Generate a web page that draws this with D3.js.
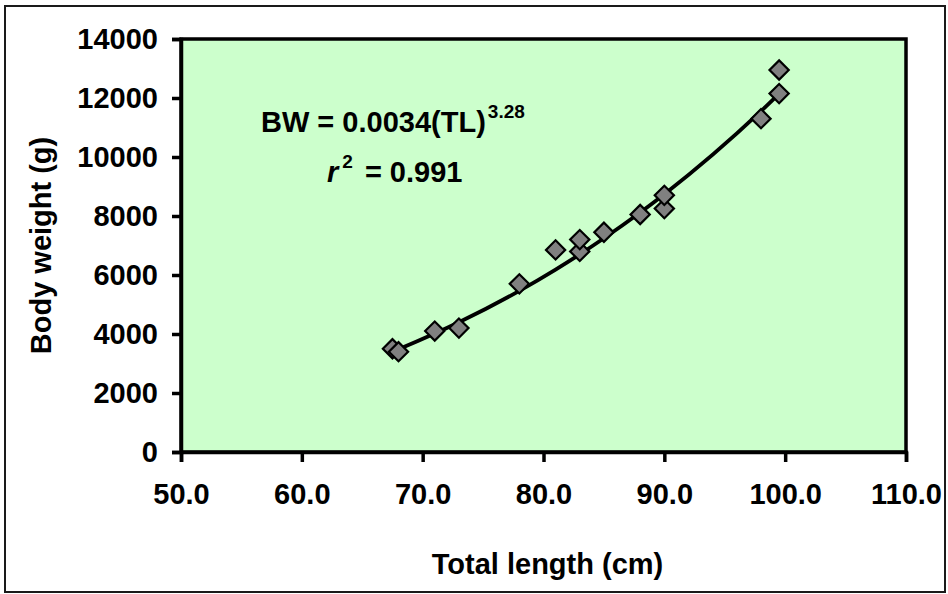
<!DOCTYPE html>
<html>
<head>
<meta charset="utf-8">
<script src="https://cdn.jsdelivr.net/npm/d3@7"></script>
<style>
    body { margin: 0; background: #fff; }
    text { font-family: "Liberation Sans", Arial, sans-serif; font-weight: bold; fill: #000; }
</style>
</head>
<body>
<div id="chart"></div>
<script>
// Data
const totalLength = [67.5, 68, 71, 73, 78, 81, 83, 83, 85, 88, 90, 90, 98, 99.5, 99.5];
const bodyWeight = [3500, 3400, 4100, 4200, 5700, 6850, 6800, 7200, 7450, 8050, 8250, 8700, 11300, 12150, 12950];
const xTicks = [50, 60, 70, 80, 90, 100, 110];
const yTicks = [0, 2000, 4000, 6000, 8000, 10000, 12000, 14000];
// Power trendline shown on the chart: BW = a * TL^b
const trendA = 0.0034;
const trendB = 3.28;
const r2 = 0.991;

const W = 948, H = 594;
const margin = {left: 181, top: 39, right: 42, bottom: 142};
const width = W - margin.left - margin.right;
const height = H - margin.top - margin.bottom;

const svg = d3.select('#chart').append('svg')
    .attr('width', W)
    .attr('height', H);

// Outer frame
svg.append('rect')
    .attr('x', 5).attr('y', 6)
    .attr('width', 940).attr('height', 586)
    .attr('fill', '#fff')
    .attr('stroke', '#1a1a1a')
    .attr('stroke-width', 2);

const g = svg.append('g')
    .attr('transform', `translate(${margin.left},${margin.top})`);

const xScale = d3.scaleLinear().domain([50, 110]).range([0, width]);
const yScale = d3.scaleLinear().domain([0, 14000]).range([height, 0]);

// Plot area
g.append('rect')
    .attr('width', width)
    .attr('height', height)
    .attr('fill', '#ccffcc')
    .attr('stroke', '#000')
    .attr('stroke-width', 3.5);

// Axes
const xAxis = g.append('g')
    .attr('transform', `translate(0,${height})`)
    .call(d3.axisBottom(xScale).tickValues(xTicks).tickSize(10).tickPadding(21).tickFormat(d3.format('.1f')));

const yAxis = g.append('g')
    .call(d3.axisLeft(yScale).tickValues(yTicks).tickSize(9).tickPadding(14).tickFormat(d3.format('d')));

[xAxis, yAxis].forEach(ax => {
    ax.select('.domain').attr('stroke', '#000').attr('stroke-width', 3.5);
    ax.selectAll('.tick line').attr('stroke', '#000').attr('stroke-width', 3.5);
    ax.selectAll('.tick text')
        .attr('fill', '#000')
        .style('font-size', '29px')
        .style('font-family', '"Liberation Sans", Arial, sans-serif')
        .style('font-weight', 'bold');
});
xAxis.selectAll('.tick text').attr('dy', '0.71em');

// Trendline
const trendX = Array.from(new Set(totalLength)).sort((a, b) => a - b);
const line = d3.line()
    .x(d => xScale(d))
    .y(d => yScale(trendA * Math.pow(d, trendB)))
    .curve(d3.curveMonotoneX);

g.append('path')
    .datum(trendX)
    .attr('d', line)
    .attr('fill', 'none')
    .attr('stroke', '#000')
    .attr('stroke-width', 3.8);

// Points
const diamond = d3.symbol().type(d3.symbolSquare).size(185);
g.selectAll('.pt')
    .data(totalLength)
    .join('path')
    .attr('class', 'pt')
    .attr('d', diamond)
    .attr('transform', (d, i) => `translate(${xScale(d)},${yScale(bodyWeight[i])}) rotate(45)`)
    .attr('fill', '#808080')
    .attr('stroke', '#000')
    .attr('stroke-width', 2.2);

// Equation annotation
const eq = g.append('text')
    .attr('x', 80).attr('y', 93)
    .style('font-size', '29px');
eq.append('tspan').text(`BW = ${trendA}(TL)`);
eq.append('tspan').attr('dx', 2).attr('dy', -14).style('font-size', '19px').text(trendB.toFixed(2));

const rr = g.append('text')
    .attr('x', 146).attr('y', 143)
    .style('font-size', '29px');
rr.append('tspan').style('font-style', 'italic').text('r');
rr.append('tspan').attr('dx', 4).attr('dy', -14).style('font-size', '19px').text('2');
rr.append('tspan').attr('dx', 12).attr('dy', 14).text(`= ${r2}`);

// Axis titles
svg.append('text')
    .attr('x', margin.left + width / 2 + 4)
    .attr('y', 574)
    .attr('text-anchor', 'middle')
    .style('font-size', '29px')
    .text('Total length (cm)');

svg.append('text')
    .attr('transform', `translate(51,${margin.top + height / 2}) rotate(-90)`)
    .attr('text-anchor', 'middle')
    .style('font-size', '29px')
    .text('Body weight (g)');
</script>
</body>
</html>
